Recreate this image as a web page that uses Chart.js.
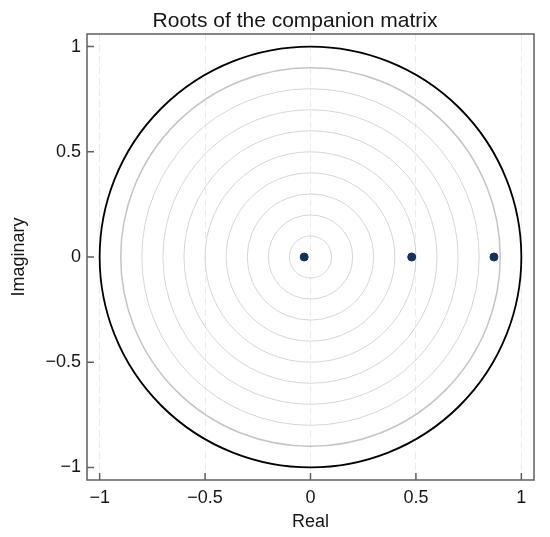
<html lang="en">
<head>
    <meta charset="UTF-8">
    <title>Roots of the companion matrix</title>
    <script src="https://cdn.jsdelivr.net/npm/chart.js"></script>
    <style>
        body { margin: 0; background: #ffffff; }
        #wrap { width: 550px; height: 537px; }
    </style>
</head>
<body>
    <div id="wrap"><canvas id="rootsChart" width="550" height="537"></canvas></div>

    <script>
        // Roots (real, imaginary)
        const rootsReal = [-0.03, 0.48, 0.87];
        const rootsImag = [0, 0, 0];

        // Reference circles and axis ticks
        const guideRadii = [0.1, 0.2, 0.3, 0.4, 0.5, 0.6, 0.7, 0.8];
        const outerGuideRadius = 0.9;
        const unitRadius = 1;
        const tickValues = [-1, -0.5, 0, 0.5, 1];

        const titleText = 'Roots of the companion matrix';
        const fontFamily = "'Liberation Sans', Arial, sans-serif";

        function fmt(v) {
            return String(v).replace('-', '\u2212');
        }

        // Circles, frame, inward ticks and title
        const decorPlugin = {
            id: 'decor',
            beforeDatasetsDraw(chart) {
                const { ctx, scales } = chart;
                const x = scales.x, y = scales.y;
                const cx = x.getPixelForValue(0), cy = y.getPixelForValue(0);

                function circle(r, color, width) {
                    const rx = x.getPixelForValue(r) - cx;
                    const ry = cy - y.getPixelForValue(r);
                    ctx.beginPath();
                    ctx.ellipse(cx, cy, rx, ry, 0, 0, Math.PI * 2);
                    ctx.strokeStyle = color;
                    ctx.lineWidth = width;
                    ctx.stroke();
                }

                ctx.save();
                guideRadii.forEach(r => circle(r, '#d6d6d6', 1));
                circle(outerGuideRadius, '#c4c4c4', 1.5);
                circle(unitRadius, '#000000', 1.8);
                ctx.restore();
            },
            afterDraw(chart) {
                const { ctx, chartArea, scales } = chart;
                const x = scales.x, y = scales.y;
                ctx.save();
                ctx.strokeStyle = '#5f5f5f';
                ctx.lineWidth = 1.5;
                ctx.strokeRect(chartArea.left, chartArea.top,
                    chartArea.right - chartArea.left, chartArea.bottom - chartArea.top);

                ctx.beginPath();
                tickValues.forEach(v => {
                    const px = x.getPixelForValue(v);
                    ctx.moveTo(px, chartArea.bottom);
                    ctx.lineTo(px, chartArea.bottom - 7);
                    const py = y.getPixelForValue(v);
                    ctx.moveTo(chartArea.left, py);
                    ctx.lineTo(chartArea.left + 7, py);
                });
                ctx.stroke();

                ctx.fillStyle = '#161616';
                ctx.font = '21px ' + fontFamily;
                ctx.textAlign = 'center';
                ctx.textBaseline = 'alphabetic';
                ctx.fillText(titleText, 295, 27);
                ctx.restore();
            }
        };

        const ctx = document.getElementById('rootsChart').getContext('2d');
        new Chart(ctx, {
            type: 'scatter',
            data: {
                datasets: [{
                    label: 'Roots',
                    data: rootsReal.map((v, i) => ({ x: v, y: rootsImag[i] })),
                    backgroundColor: '#16315e',
                    borderColor: '#16315e',
                    pointRadius: 4,
                    pointHoverRadius: 4
                }]
            },
            options: {
                responsive: false,
                animation: false,
                layout: { padding: { top: 34, right: 16, left: 0, bottom: 0 } },
                plugins: {
                    legend: { display: false },
                    tooltip: { enabled: false },
                    title: { display: false }
                },
                scales: {
                    x: {
                        type: 'linear',
                        min: -1.06,
                        max: 1.06,
                        afterFit: s => { s.height = 57; },
                        afterBuildTicks: s => { s.ticks = tickValues.map(v => ({ value: v })); },
                        ticks: {
                            callback: v => fmt(v),
                            color: '#161616',
                            font: { size: 18, family: fontFamily },
                            padding: 7,
                            maxRotation: 0
                        },
                        grid: {
                            drawTicks: false,
                            color: 'rgba(0,0,0,0.08)',
                            lineWidth: 1
                        },
                        border: { display: false, dash: [7, 4] },
                        title: {
                            display: true,
                            text: 'Real',
                            color: '#161616',
                            font: { size: 18, family: fontFamily },
                            padding: { top: 0, bottom: 4 }
                        }
                    },
                    y: {
                        type: 'linear',
                        min: -1.06,
                        max: 1.06,
                        afterFit: s => { s.width = 87; },
                        afterBuildTicks: s => { s.ticks = tickValues.map(v => ({ value: v })); },
                        ticks: {
                            callback: v => fmt(v),
                            color: '#161616',
                            font: { size: 18, family: fontFamily },
                            padding: 6
                        },
                        grid: { display: false, drawTicks: false },
                        border: { display: false },
                        title: {
                            display: true,
                            text: 'Imaginary',
                            color: '#161616',
                            font: { size: 18, family: fontFamily },
                            padding: { top: 8, bottom: 0 }
                        }
                    }
                }
            },
            plugins: [decorPlugin]
        });
    </script>
</body>
</html>
